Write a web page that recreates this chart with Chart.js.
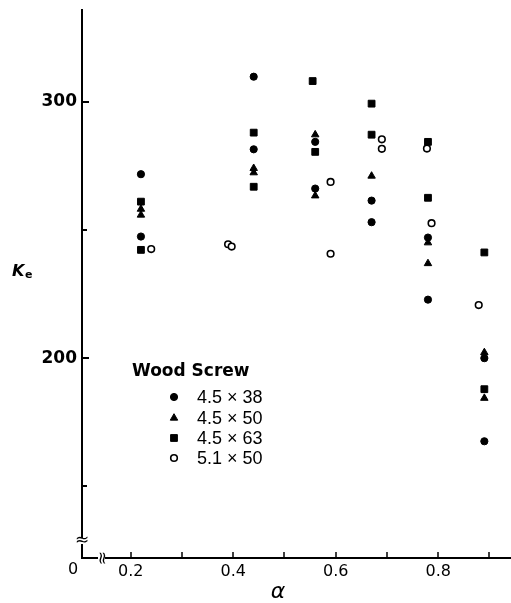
<!DOCTYPE html>
<html>
<head>
<meta charset="utf-8">
<script src="https://cdn.jsdelivr.net/npm/chart.js@4.4.0/dist/chart.umd.min.js"></script>
<style>
  html, body { margin: 0; padding: 0; background: #fff; }
</style>
</head>
<body>
<canvas id="chart" width="511" height="603"></canvas>
<script>
  // values
  var seriesNames = ['4.5 \u00d7 38', '4.5 \u00d7 50', '4.5 \u00d7 63', '5.1 \u00d7 50'];

  var alpha38 = [0.22, 0.22, 0.44, 0.44, 0.56, 0.56, 0.67, 0.67, 0.78, 0.78, 0.89, 0.89];
  var ke38 = [271.7, 247.4, 309.7, 281.4, 284.3, 266.1, 261.4, 253.0, 247.0, 222.8, 200.0, 167.6];

  var alpha50 = [0.22, 0.22, 0.44, 0.44, 0.56, 0.56, 0.67, 0.78, 0.78, 0.89, 0.89];
  var ke50 = [258.1, 255.8, 274.0, 272.3, 287.1, 263.3, 271.0, 245.0, 236.9, 202.2, 184.4];

  var alpha63 = [0.22, 0.22, 0.44, 0.44, 0.555, 0.56, 0.67, 0.67, 0.78, 0.78, 0.89, 0.89];
  var ke63 = [261.0, 242.2, 287.9, 266.8, 308.0, 280.4, 299.2, 287.1, 284.3, 262.5, 241.2, 187.9];

  var alpha51 = [0.24, 0.39, 0.397, 0.59, 0.59, 0.69, 0.69, 0.778, 0.787, 0.879];
  var ke51 = [242.5, 244.4, 243.5, 268.7, 240.7, 285.3, 281.6, 281.7, 252.6, 220.7];

  var xTicks = [0.2, 0.3, 0.4, 0.5, 0.6, 0.7, 0.8, 0.9];
  var xLabels = ['0.2', '', '0.4', '', '0.6', '', '0.8', ''];
  var yTicks = [150, 200, 250, 300];
  var yLabels = ['', '200', '', '300'];

  function pairs(xs, ys) {
    return xs.map(function (x, i) { return { x: x, y: ys[i] }; });
  }

  var styles = [
    { pointStyle: 'circle', radius: 3.6, bg: '#000', border: '#000', bw: 1 },
    { pointStyle: 'triangle', radius: 4.3, bg: '#000', border: '#000', bw: 1 },
    { pointStyle: 'rect', radius: 4.8, bg: '#000', border: '#000', bw: 1 },
    { pointStyle: 'circle', radius: 3.3, bg: '#fff', border: '#000', bw: 1.6 }
  ];
  var allData = [pairs(alpha38, ke38), pairs(alpha50, ke50), pairs(alpha63, ke63), pairs(alpha51, ke51)];

  var datasets = allData.map(function (d, i) {
    var s = styles[i];
    return {
      label: seriesNames[i],
      data: d,
      pointStyle: s.pointStyle,
      pointRadius: s.radius,
      pointBackgroundColor: s.bg,
      pointBorderColor: s.border,
      pointBorderWidth: s.bw,
      showLine: false
    };
  });

  function drawMark(ctx, i, x, y) {
    var s = styles[i];
    ctx.fillStyle = s.bg;
    ctx.strokeStyle = s.border;
    ctx.lineWidth = s.bw;
    ctx.beginPath();
    if (s.pointStyle === 'circle') {
      ctx.arc(x, y, s.radius, 0, Math.PI * 2);
    } else if (s.pointStyle === 'triangle') {
      var r = s.radius;
      ctx.moveTo(x, y - r);
      ctx.lineTo(x + r * 0.866, y + r * 0.5);
      ctx.lineTo(x - r * 0.866, y + r * 0.5);
      ctx.closePath();
    } else {
      var h = s.radius * Math.SQRT1_2;
      ctx.rect(x - h, y - h, h * 2, h * 2);
    }
    ctx.fill();
    ctx.stroke();
  }

  function noPad(scale) {
    scale.paddingLeft = 0;
    scale.paddingRight = 0;
    scale.paddingTop = 0;
    scale.paddingBottom = 0;
  }

  var extras = {
    id: 'extras',
    afterDraw: function (chart) {
      var ctx = chart.ctx;
      var xs = chart.scales.x, ys = chart.scales.y;
      var area = chart.chartArea;
      ctx.save();
      ctx.strokeStyle = '#000';
      ctx.lineWidth = 2;

      // inward tick marks
      ys.ticks.forEach(function (t) {
        var py = Math.round(ys.getPixelForValue(t.value));
        var len = t.label ? 7 : 5;
        ctx.beginPath();
        ctx.moveTo(area.left, py);
        ctx.lineTo(area.left + len, py);
        ctx.stroke();
      });
      ctx.lineWidth = 1.5;
      xs.ticks.forEach(function (t) {
        var px = Math.round(xs.getPixelForValue(t.value));
        ctx.beginPath();
        ctx.moveTo(px, area.bottom);
        ctx.lineTo(px, area.bottom - 6);
        ctx.stroke();
      });

      // axis breaks
      ctx.fillStyle = '#fff';
      ctx.fillRect(area.left - 4, 538, 9, 6);
      ctx.fillRect(98, area.bottom - 4, 7, 9);
      ctx.fillStyle = '#000';
      ctx.font = '17px "DejaVu Sans"';
      ctx.textAlign = 'center';
      ctx.textBaseline = 'middle';
      ctx.fillText('\u2248', area.left, 541);
      ctx.save();
      ctx.translate(101.5, area.bottom);
      ctx.rotate(Math.PI / 2);
      ctx.fillText('\u2248', 0, 0);
      ctx.restore();

      // origin label and axis titles
      ctx.font = '16px "DejaVu Sans"';
      ctx.fillText('0', 73, 570);
      ctx.font = 'italic 22px "DejaVu Sans"';
      ctx.fillText('\u03b1', 278, 592);
      ctx.textAlign = 'left';
      ctx.font = 'bold italic 16px "DejaVu Sans"';
      ctx.fillText('K', 12, 272);
      ctx.font = 'bold 11px "DejaVu Sans"';
      ctx.fillText('e', 25, 275);

      // legend
      ctx.font = 'bold 17px "DejaVu Sans"';
      ctx.fillText('Wood Screw', 132, 372);
      ctx.font = '18px "Liberation Sans"';
      var rows = [397, 418, 438, 458];
      seriesNames.forEach(function (name, i) {
        drawMark(ctx, i, 174, rows[i]);
        ctx.fillStyle = '#000';
        ctx.fillText(name, 197, rows[i] + 1);
      });
      ctx.restore();
    }
  };

  var ctx = document.getElementById('chart').getContext('2d');
  var chart = new Chart(ctx, {
    type: 'scatter',
    data: { datasets: datasets },
    options: {
      responsive: false,
      animation: false,
      layout: { autoPadding: false, padding: { top: 10, right: 0, left: 0, bottom: 0 } },
      plugins: {
        legend: { display: false },
        tooltip: { enabled: false }
      },
      scales: {
        x: {
          type: 'linear',
          min: 0.105,
          max: 0.942,
          grid: { display: false, drawTicks: false },
          border: { display: true, color: '#000', width: 2 },
          afterBuildTicks: function (scale) {
            scale.ticks = xTicks.map(function (v) { return { value: v }; });
          },
          afterFit: function (scale) { scale.height = 45; noPad(scale); },
          ticks: {
            padding: 4,
            color: '#000',
            font: { family: 'DejaVu Sans', size: 16 },
            autoSkip: false,
            maxRotation: 0,
            callback: function (value) {
              var i = xTicks.indexOf(value);
              return i >= 0 ? xLabels[i] : '';
            }
          }
        },
        y: {
          type: 'linear',
          min: 122.1,
          max: 335.7,
          grid: { display: false, drawTicks: false },
          border: { display: true, color: '#000', width: 2 },
          afterBuildTicks: function (scale) {
            scale.ticks = yTicks.map(function (v) { return { value: v }; });
          },
          afterFit: function (scale) { scale.width = 82; noPad(scale); },
          ticks: {
            padding: 5,
            color: '#000',
            font: { family: 'DejaVu Sans', size: 17, weight: 'bold' },
            autoSkip: false,
            callback: function (value) {
              var i = yTicks.indexOf(value);
              return i >= 0 ? yLabels[i] : '';
            }
          }
        }
      }
    },
    plugins: [extras]
  });
</script>
</body>
</html>
